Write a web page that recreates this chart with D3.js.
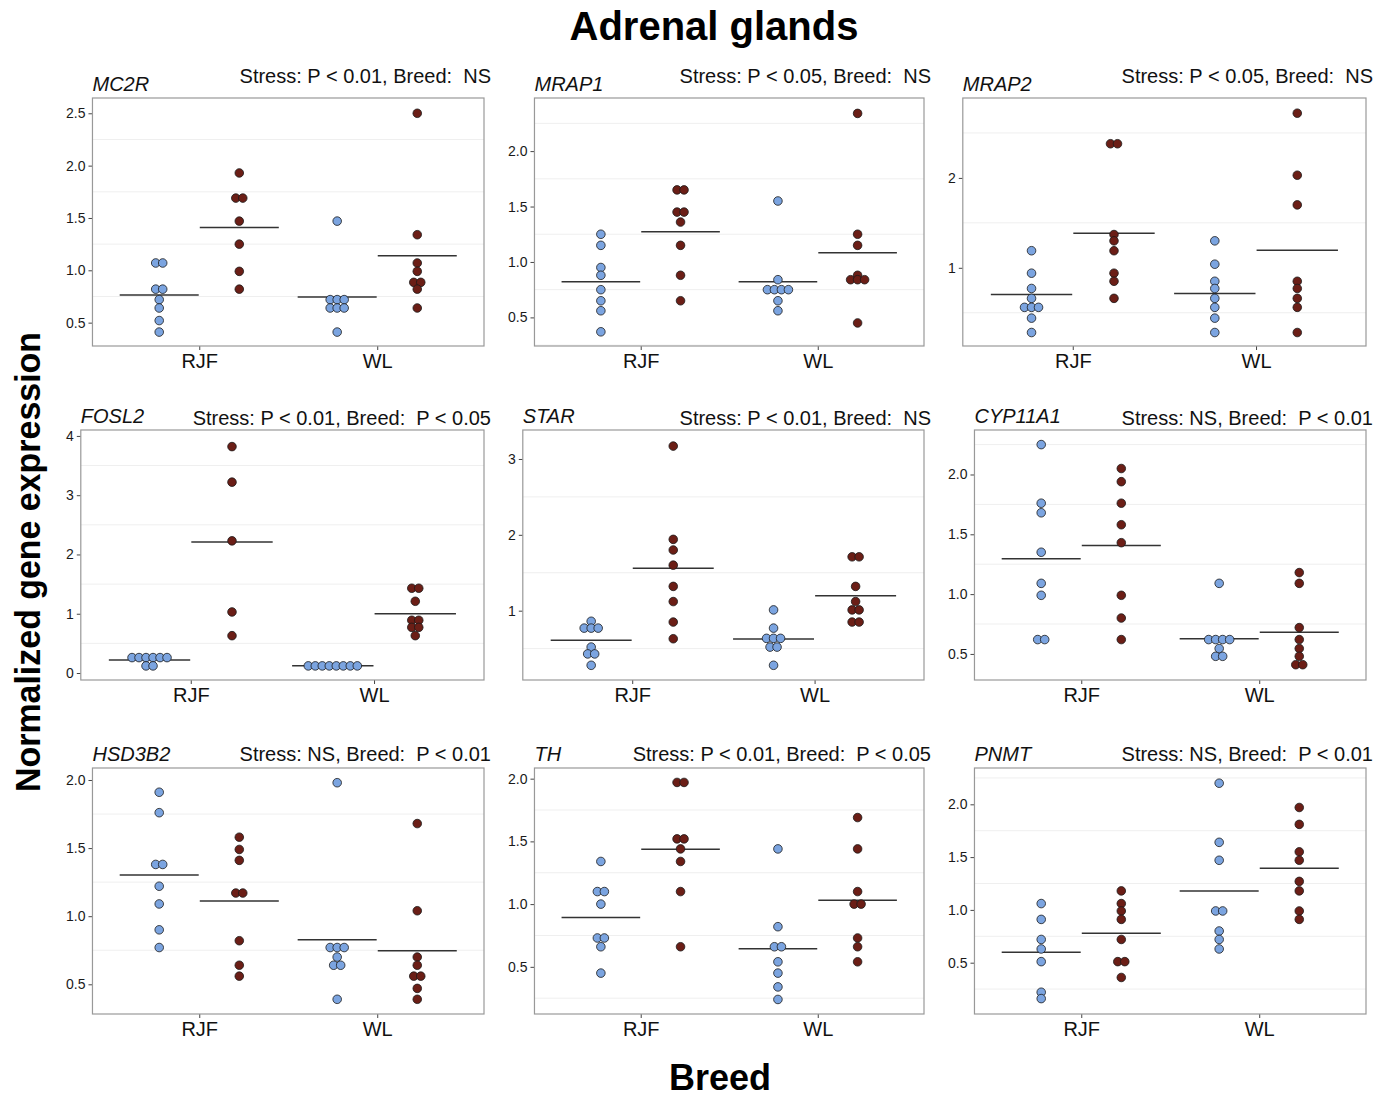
<!DOCTYPE html>
<html>
<head>
<meta charset="utf-8">
<script src="https://cdn.jsdelivr.net/npm/d3@7"></script>
<style>
    body { margin: 0; background: #fff; }
    svg { font-family: "Liberation Sans", Arial, sans-serif; }
</style>
</head>
<body>
<svg id="chart" width="1389" height="1099"></svg>
<script>
// gene order, left to right, top to bottom
const genes = ["MC2R", "MRAP1", "MRAP2", "FOSL2", "STAR", "CYP11A1", "HSD3B2", "TH", "PNMT"];
const stats = [
    "Stress: P < 0.01, Breed:  NS",
    "Stress: P < 0.05, Breed:  NS",
    "Stress: P < 0.05, Breed:  NS",
    "Stress: P < 0.01, Breed:  P < 0.05",
    "Stress: P < 0.01, Breed:  NS",
    "Stress: NS, Breed:  P < 0.01",
    "Stress: NS, Breed:  P < 0.01",
    "Stress: P < 0.01, Breed:  P < 0.05",
    "Stress: NS, Breed:  P < 0.01"
];
const breeds = ["RJF", "WL"];
const yLimits = [
    [0.277, 2.646], [0.242, 2.479], [0.130, 2.889],
    [-0.118, 4.10], [0.086, 3.382], [0.282, 2.372],
    [0.282, 2.088], [0.124, 2.085], [0.014, 2.344]
];
const tickSteps = [0.5, 0.5, 1, 1, 1, 0.5, 0.5, 0.5, 0.5];

// groups: RJF control, RJF stress, WL control, WL stress
const MC2R = [
    [1.07, 1.07, 0.82, 0.82, 0.72, 0.64, 0.52, 0.41],
    [1.93, 1.69, 1.69, 1.47, 1.25, 0.99, 0.82],
    [1.47, 0.72, 0.72, 0.72, 0.64, 0.64, 0.64, 0.41],
    [2.50, 1.34, 1.07, 0.99, 0.885, 0.885, 0.82, 0.64]
];
const MRAP1 = [
    [1.25, 1.15, 0.95, 0.88, 0.75, 0.65, 0.56, 0.37],
    [1.65, 1.65, 1.45, 1.45, 1.36, 1.15, 0.88, 0.65],
    [1.55, 0.84, 0.75, 0.75, 0.75, 0.75, 0.65, 0.56],
    [2.34, 1.25, 1.15, 0.88, 0.84, 0.84, 0.84, 0.45]
];
const MRAP2 = [
    [1.19, 0.94, 0.77, 0.66, 0.56, 0.56, 0.56, 0.44, 0.28],
    [2.38, 2.38, 1.37, 1.30, 1.19, 0.94, 0.85, 0.66],
    [1.30, 1.04, 0.85, 0.77, 0.66, 0.56, 0.44, 0.28],
    [2.72, 2.03, 1.70, 0.85, 0.77, 0.66, 0.56, 0.28]
];
const FOSL2 = [
    [0.26, 0.26, 0.26, 0.26, 0.26, 0.26, 0.12, 0.12],
    [3.82, 3.22, 2.23, 1.03, 0.63],
    [0.12, 0.12, 0.12, 0.12, 0.12, 0.12, 0.12, 0.12],
    [1.43, 1.43, 1.21, 0.89, 0.89, 0.77, 0.77, 0.63]
];
const STAR = [
    [0.86, 0.77, 0.77, 0.77, 0.52, 0.43, 0.43, 0.28],
    [3.17, 1.94, 1.80, 1.60, 1.32, 1.12, 0.85, 0.63],
    [1.01, 0.77, 0.635, 0.635, 0.635, 0.52, 0.52, 0.28],
    [1.71, 1.71, 1.32, 1.12, 1.01, 1.01, 0.85, 0.85]
];
const CYP11A1 = [
    [2.25, 1.76, 1.68, 1.35, 1.09, 0.99, 0.62, 0.62],
    [2.05, 1.94, 1.76, 1.58, 1.43, 0.99, 0.80, 0.62],
    [1.09, 0.62, 0.62, 0.62, 0.62, 0.545, 0.48, 0.48],
    [1.18, 1.09, 0.72, 0.62, 0.545, 0.48, 0.41, 0.41]
];
const HSD3B2 = [
    [1.91, 1.76, 1.38, 1.38, 1.22, 1.09, 0.90, 0.77],
    [1.58, 1.49, 1.41, 1.17, 1.17, 0.82, 0.64, 0.56],
    [1.98, 0.77, 0.77, 0.77, 0.70, 0.64, 0.64, 0.39],
    [1.68, 1.04, 0.70, 0.64, 0.56, 0.56, 0.47, 0.39]
];
const TH = [
    [1.34, 1.10, 1.10, 1.00, 0.73, 0.73, 0.66, 0.45],
    [1.97, 1.97, 1.52, 1.52, 1.44, 1.34, 1.10, 0.66],
    [1.44, 0.82, 0.66, 0.66, 0.54, 0.45, 0.34, 0.24],
    [1.69, 1.44, 1.10, 1.00, 1.00, 0.73, 0.66, 0.54]
];
const PNMT = [
    [1.06, 0.91, 0.72, 0.63, 0.51, 0.22, 0.16],
    [1.18, 1.06, 0.99, 0.91, 0.72, 0.51, 0.51, 0.36],
    [2.20, 1.64, 1.47, 0.99, 0.99, 0.80, 0.72, 0.63],
    [1.97, 1.81, 1.55, 1.47, 1.27, 1.18, 0.99, 0.91]
];
// group mean lines as drawn
const groupMeans = [
    [0.764, 1.408, 0.745, 1.14],
    [0.821, 1.272, 0.821, 1.083],
    [0.704, 1.385, 0.715, 1.196],
    [0.219, 2.21, 0.123, 1.0],
    [0.609, 1.558, 0.626, 1.198],
    [1.295, 1.407, 0.626, 0.682],
    [1.303, 1.112, 0.828, 0.747],
    [0.894, 1.438, 0.644, 1.03],
    [0.598, 0.778, 1.179, 1.394]
];
const geneValues = [MC2R, MRAP1, MRAP2, FOSL2, STAR, CYP11A1, HSD3B2, TH, PNMT];

const fills = ["#7ba4e0", "#6b1e16"];

// layout of the 3x3 grid
const colLeft = [66, 508, 948];
const colRight = [484, 924, 1366];
const rowTop = [98, 430, 768];
const rowBottom = [346, 680, 1014];
const statDy = [15, 5, 7];
const dodge = 0.225;
const dotR = 4.3;
const dotGap = 7;

const svg = d3.select("#chart");

function textWidth(str, size) {
    const t = svg.append("text").attr("font-size", size).text(str);
    const w = t.node().getComputedTextLength();
    t.remove();
    return w;
}

function drawPanel(i) {
    const row = Math.floor(i / 3), col = i % 3;
    const step = tickSteps[i];
    const dom = yLimits[i];
    const fmt = step < 1 ? d3.format(".1f") : d3.format("d");
    const ticks = d3.range(Math.ceil(dom[0] / step) * step, dom[1] + 1e-9, step);
    const minor = ticks.map(t => t - step / 2).concat([ticks[ticks.length - 1] + step / 2])
        .filter(v => v > dom[0] && v < dom[1]);

    const labW = d3.max(ticks, t => textWidth(fmt(t), 14));
    const left = colLeft[col] + labW + 7;
    const right = colRight[col];
    const top = rowTop[row], bottom = rowBottom[row];

    const x = d3.scaleLinear().domain([0.4, 2.6]).range([left, right]);
    const y = d3.scaleLinear().domain(dom).range([bottom, top]);

    const g = svg.append("g");

    g.append("g")
        .selectAll("line")
        .data(minor)
        .join("line")
        .attr("x1", left).attr("x2", right)
        .attr("y1", d => y(d)).attr("y2", d => y(d))
        .attr("stroke", "#efefef")
        .attr("stroke-width", 1);

    const yAxis = g.append("g")
        .attr("transform", `translate(${left},0)`)
        .call(d3.axisLeft(y).tickValues(ticks).tickFormat(fmt).tickSize(4).tickPadding(3));
    yAxis.select(".domain").remove();
    yAxis.selectAll("line").attr("stroke", "#444");
    yAxis.attr("font-size", 14).attr("font-family", null);
    yAxis.selectAll("text").attr("fill", "#1a1a1a");

    const xAxis = g.append("g")
        .attr("transform", `translate(0,${bottom})`)
        .call(d3.axisBottom(x).tickValues([1, 2]).tickFormat(d => breeds[d - 1]).tickSize(4).tickPadding(4));
    xAxis.select(".domain").remove();
    xAxis.selectAll("line").attr("stroke", "#444");
    xAxis.attr("font-size", 20).attr("font-family", null);
    xAxis.selectAll("text").attr("fill", "#111");

    // dots, ties laid side by side
    const groups = geneValues[i];
    const dots = [];
    groups.forEach((vals, gi) => {
        const cx = x(Math.floor(gi / 2) + 1 + (gi % 2 ? dodge : -dodge));
        d3.group(vals, v => v).forEach((arr, v) => {
            arr.forEach((_, k) => {
                dots.push({ x: cx + (k - (arr.length - 1) / 2) * dotGap, v: v, s: gi % 2 });
            });
        });
    });

    g.append("g")
        .selectAll("line")
        .data(groupMeans[i])
        .join("line")
        .attr("x1", (d, gi) => x(Math.floor(gi / 2) + 1 + (gi % 2 ? dodge : -dodge) - 0.222))
        .attr("x2", (d, gi) => x(Math.floor(gi / 2) + 1 + (gi % 2 ? dodge : -dodge) + 0.222))
        .attr("y1", d => y(d)).attr("y2", d => y(d))
        .attr("stroke", "#333")
        .attr("stroke-width", 1.5);

    g.append("g")
        .selectAll("circle")
        .data(dots)
        .join("circle")
        .attr("cx", d => d.x)
        .attr("cy", d => y(d.v))
        .attr("r", dotR)
        .attr("fill", d => fills[d.s])
        .attr("stroke", "#1a1a1a")
        .attr("stroke-width", 0.8);

    g.append("rect")
        .attr("x", left).attr("y", top)
        .attr("width", right - left).attr("height", bottom - top)
        .attr("fill", "none")
        .attr("stroke", "#999")
        .attr("stroke-width", 1.2);

    g.append("text")
        .attr("x", left).attr("y", top - 7)
        .attr("font-size", 20)
        .attr("font-style", "italic")
        .attr("fill", "#111")
        .text(genes[i]);

    g.append("text")
        .attr("x", right + 7).attr("y", top - statDy[row])
        .attr("font-size", 20)
        .attr("text-anchor", "end")
        .attr("fill", "#111")
        .style("white-space", "pre")
        .text(stats[i]);
}

genes.forEach((d, i) => drawPanel(i));

svg.append("text")
    .attr("x", 714).attr("y", 40)
    .attr("text-anchor", "middle")
    .attr("font-size", 40)
    .attr("font-weight", "bold")
    .text("Adrenal glands");

svg.append("text")
    .attr("x", 720).attr("y", 1090)
    .attr("text-anchor", "middle")
    .attr("font-size", 36)
    .attr("font-weight", "bold")
    .text("Breed");

svg.append("text")
    .attr("transform", "translate(40,562) rotate(-90)")
    .attr("text-anchor", "middle")
    .attr("font-size", 35)
    .attr("font-weight", "bold")
    .attr("textLength", 460)
    .attr("lengthAdjust", "spacingAndGlyphs")
    .text("Normalized gene expression");
</script>
</body>
</html>
